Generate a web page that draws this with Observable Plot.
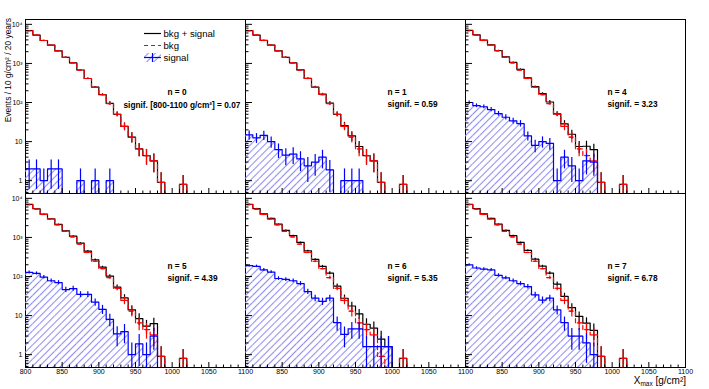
<!DOCTYPE html>
<html>
<head>
<meta charset="utf-8">
<script src="https://cdn.jsdelivr.net/npm/d3@7"></script>
<script src="https://cdn.jsdelivr.net/npm/@observablehq/plot@0.6"></script>
<style>
html,body{margin:0;padding:0;background:#fff;}
#chart{width:709px;height:389px;}
</style>
</head>
<body>
<div id="chart"></div>
<script>
// ---- data ----
const binLow = [800,810,820,830,840,850,860,870,880,890,900,910,920,930,940,950,960,970,980,990,1000,1010,1020,1030,1040,1050,1060,1070,1080,1090];
const binWidth = 10;
const bkg    = [6870,5300,3860,2930,2090,1430,1030,677,411,246,159,94,50,24.5,13,6.5,4.4,3.2,0.9,0,0,0.8,0,0,0,0,0,0,0,0];
const bkgErr = [55,48,40,35,30,25,20,17,13,10,9,9,7,5.5,3.8,2.4,1.9,1.6,0.7,0,0,0.55,0,0,0,0,0,0,0,0];

const sigN0 = [2,2,1,2,2,0,0,1,0,1,0,1];
const errN0 = [1.4,1.4,1,1.4,1.4,0,0,1,0,1,0,1];
const sigN1 = [14.8,12.5,14.5,10,6.2,4.5,4.8,3.6,2.4,3.0,4.0,1.9,0,1,1,1];
const errN1 = [3.8,3.5,3.8,3.2,2.5,2.1,2.2,1.9,1.5,1.7,2.0,1.4,0,1,1,1];
const sigN4 = [100,83,78,66,52,42,34,29,14,8,10,9,1,4,2.4,1,3.2,3];
const errN4 = [10,9.1,8.8,8.1,7.2,6.5,5.8,5.4,3.7,2.8,3.2,3,1,2,1.5,1,1.8,1.7];
const sigN5 = [128,120,96,78,70,46,49,35,35,22,14.5,8,3.4,3.9,1,1.9,1,3];
const errN5 = [11.3,11,9.8,8.8,8.4,6.8,7,5.9,5.9,4.7,3.8,2.8,1.8,2,1,1.4,1,1.7];
const sigN6 = [190,182,148,130,89,84,78,66,41,28,23,28,6.6,3.3,4.6,4.6,1.6,1.6,1.6,1.6];
const errN6 = [13.8,13.5,12.2,11.4,9.4,9.2,8.8,8.1,6.4,5.3,4.8,5.3,2.6,1.8,2.1,2.1,1.3,1.3,1.3,1.3];
const sigN7 = [199,165,155,148,107,92,78,66,55,34,25,28,14,6.6,3,3,2,1];
const errN7 = [14,12.8,12.4,12.2,10.3,9.6,8.8,8.1,7.4,5.8,5,5.3,3.7,2.6,1.7,1.7,1.4,1];

const panelN = [0,1,4,5,6,7];
const panelSignif = ["0.07","0.59","3.23","4.39","5.35","6.78"];

const xMajorTicks = [800,850,900,950,1000,1050,1100];
const xMinorTicks = [810,820,830,840,860,870,880,890,910,920,930,940,960,970,980,990,1010,1020,1030,1040,1060,1070,1080,1090];
const yMajorTicks = [1,10,100,1000,10000];
const yTickLabels = ["1","10","10²","10³","10⁴"];
const yMinorTicks = [0.5,0.6,0.7,0.8,0.9,2,3,4,5,6,7,8,9,20,30,40,50,60,70,80,90,200,300,400,500,600,700,800,900,2000,3000,4000,5000,6000,7000,8000,9000];

const YMIN = 0.47, YMAX = 13300;
const RED = "#ff0000", BLUE = "#0000ff";
const FONT = "'Liberation Sans', Arial, sans-serif";

// ---- build tables ----
const sigs = [sigN0, sigN1, sigN4, sigN5, sigN6, sigN7];
const errs = [errN0, errN1, errN4, errN5, errN6, errN7];
const rows = [];
panelN.forEach((n, p) => {
  const col = p % 3, row = Math.floor(p / 3);
  binLow.forEach((lo, j) => {
    const s = sigs[p][j] ?? 0, se = errs[p][j] ?? 0;
    rows.push({p, col, row, lo, hi: lo + binWidth, c: lo + binWidth / 2,
      bkg: bkg[j], bkgErr: bkgErr[j], sig: s, sigErr: se,
      tot: bkg[j] + s, totErr: Math.hypot(bkgErr[j], se)});
  });
});
function steps(key) {
  const pts = [];
  rows.forEach(r => {
    const v = r[key] > 0 ? r[key] : YMIN;
    pts.push({p: r.p, col: r.col, row: r.row, x: r.lo, y: v});
    pts.push({p: r.p, col: r.col, row: r.row, x: r.hi, y: v});
  });
  return pts;
}
function errBars(key, ekey) {
  return rows.filter(r => r[key] > 0 && r[ekey] > 0).map(r => ({
    col: r.col, row: r.row, c: r.c, v: r[key],
    y1: Math.max(r[key] - r[ekey], YMIN), y2: r[key] + r[ekey]}));
}
const panelRows = panelN.map((n, p) => ({p, col: p % 3, row: Math.floor(p / 3), n, s: panelSignif[p]}));
const xLabelRows = [];
[0,1,2].forEach(col => xMajorTicks.forEach(v => {
  if (col > 0 && v === 800) return;
  xLabelRows.push({col, row: 1, v, label: String(v)});
}));
const fmtY = d => yTickLabels[yMajorTicks.indexOf(d)];
const F = {fx: "col", fy: "row"};
const bkgBars = errBars("bkg", "bkgErr");

const plot = Plot.plot({
  width: 709, height: 389,
  marginLeft: 24, marginRight: 23, marginTop: 18, marginBottom: 22,
  style: {fontFamily: FONT, fontSize: "7px", background: "#fff", overflow: "visible"},
  fx: {domain: [0,1,2], padding: 0, axis: null},
  fy: {domain: [0,1], padding: 0, axis: null},
  x: {domain: [800, 1100], axis: null},
  y: {type: "log", domain: [YMIN, YMAX], axis: null},
  marks: [
    Plot.frame({stroke: "black", strokeWidth: 1}),
    Plot.rect(rows.filter(r => r.sig > 0), {...F, x1: "lo", x2: "hi", y1: YMIN, y2: "sig", fill: "url(#sigHatch)", clip: true}),
    Plot.line(steps("tot"), {...F, x: "x", y: "y", stroke: "black", strokeWidth: 1.2, clip: true}),
    Plot.ruleX(errBars("tot", "totErr"), {...F, x: "c", y1: "y1", y2: "y2", stroke: "black", strokeWidth: 1.2, clip: true}),
    Plot.line(steps("bkg"), {...F, x: "x", y: "y", stroke: RED, strokeWidth: 1.2, strokeDasharray: "4,3", clip: true}),
    Plot.ruleY(bkgBars, {...F, y: "v", x1: d => d.c - 2.5, x2: d => d.c + 2.5, stroke: RED, strokeWidth: 1.2, clip: true}),
    Plot.ruleX(bkgBars, {...F, x: "c", y1: "y1", y2: "y2", stroke: RED, strokeWidth: 1.2, clip: true}),
    Plot.line(steps("sig"), {...F, x: "x", y: "y", stroke: BLUE, strokeWidth: 1.2, clip: true}),
    Plot.ruleX(errBars("sig", "sigErr"), {...F, x: "c", y1: "y1", y2: "y2", stroke: BLUE, strokeWidth: 1.2, clip: true}),
    Plot.axisX(xMajorTicks, {anchor: "bottom", tickSize: -5, tickFormat: () => "", label: null, facetAnchor: null}),
    Plot.axisX(xMinorTicks, {anchor: "bottom", tickSize: -2.5, tickFormat: () => "", label: null, facetAnchor: null}),
    Plot.axisY(yMajorTicks, {anchor: "left", tickSize: -7, tickFormat: () => "", label: null, facetAnchor: null}),
    Plot.axisY(yMinorTicks, {anchor: "left", tickSize: -3.5, tickFormat: () => "", label: null, facetAnchor: null}),
    Plot.axisY(yMajorTicks, {anchor: "left", tickSize: 0, tickPadding: 3, tickFormat: fmtY, label: null, fontSize: 7}),
    Plot.text(xLabelRows, {...F, x: "v", text: "label", frameAnchor: "bottom", lineAnchor: "top", dy: 2, fontSize: 7}),
    Plot.text(panelRows, {...F, text: d => `n = ${d.n}`, frameAnchor: "top-left", dx: 142, dy: 69.5, textAnchor: "start", fontWeight: "bold", fontSize: 8.3}),
    Plot.text(panelRows.filter(d => d.p > 0), {...F, text: d => `signif. = ${d.s}`, frameAnchor: "top-left", dx: 142, dy: 81.5, textAnchor: "start", fontWeight: "bold", fontSize: 8.3}),
    Plot.text(panelRows.filter(d => d.p === 0), {...F, text: d => `signif. [800-1100 g/cm²] = ${d.s}`, frameAnchor: "top-left", dx: 98, dy: 82.5, textAnchor: "start", fontWeight: "bold", fontSize: 8.3})
  ]
});

const svg = d3.select(plot);
const defs = svg.insert("defs", ":first-child");
defs.append("pattern").attr("id", "sigHatch").attr("patternUnits", "userSpaceOnUse")
  .attr("width", 5).attr("height", 5).attr("patternTransform", "rotate(45)")
  .append("line").attr("x1", 2.5).attr("y1", 0).attr("x2", 2.5).attr("y2", 5)
  .attr("stroke", "#8e8ef2").attr("stroke-width", 1.1);

const lg = svg.append("g").attr("font-family", FONT).attr("font-size", 9.6).attr("text-anchor", "start");
lg.append("line").attr("x1", 144).attr("x2", 161).attr("y1", 33.5).attr("y2", 33.5).attr("stroke", "black").attr("stroke-width", 1.2);
lg.append("text").attr("x", 163.5).attr("y", 33.5).attr("dy", "0.35em").attr("text-anchor", "start").text("bkg + signal");
lg.append("line").attr("x1", 144).attr("x2", 161).attr("y1", 45.5).attr("y2", 45.5).attr("stroke", RED).attr("stroke-width", 1.2).attr("stroke-dasharray", "4,3");
lg.append("text").attr("x", 163.5).attr("y", 45.5).attr("dy", "0.35em").attr("text-anchor", "start").text("bkg");
lg.append("rect").attr("x", 144).attr("y", 53).attr("width", 17).attr("height", 9).attr("fill", "url(#sigHatch)");
lg.append("line").attr("x1", 144).attr("x2", 161).attr("y1", 57.5).attr("y2", 57.5).attr("stroke", BLUE).attr("stroke-width", 1.2);
lg.append("line").attr("x1", 152.5).attr("x2", 152.5).attr("y1", 53).attr("y2", 62).attr("stroke", BLUE).attr("stroke-width", 1.2);
lg.append("text").attr("x", 163.5).attr("y", 57.5).attr("dy", "0.35em").attr("text-anchor", "start").text("signal");

svg.append("text").attr("transform", "translate(8.5,18) rotate(-90)").attr("text-anchor", "end").attr("dy", "0.35em")
  .attr("font-family", FONT).attr("font-size", 8.4).text("Events / 10 g/cm² / 20 years");
const xt = svg.append("text").attr("x", 686).attr("y", 384).attr("text-anchor", "end")
  .attr("font-family", FONT).attr("font-size", 10);
xt.append("tspan").text("X");
xt.append("tspan").attr("font-size", 6.5).attr("dy", 2).text("max");
xt.append("tspan").attr("dy", -2).text(" [g/cm²]");

document.getElementById("chart").appendChild(plot);
</script>
</body>
</html>
